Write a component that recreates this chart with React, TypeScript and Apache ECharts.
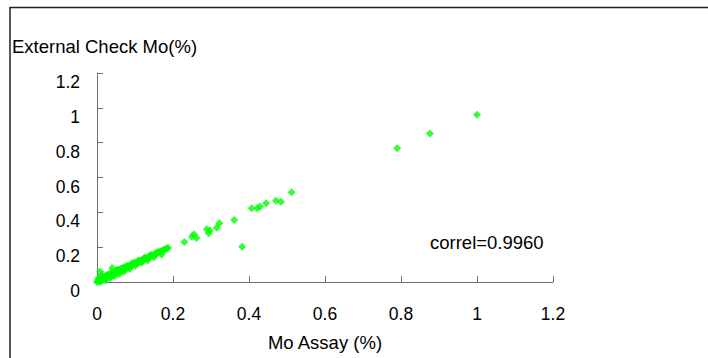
import React, { useEffect, useRef } from "react";
import * as echarts from "echarts";

const xTicks = [0, 0.2, 0.4, 0.6, 0.8, 1, 1.2];
const yTicks = [0, 0.2, 0.4, 0.6, 0.8, 1, 1.2];

const moAssay = [
  0, 0.002, 0.004, 0.005, 0.006, 0.008, 0.008, 0.01, 0.012, 0.012, 0.014, 0.015, 0.017, 0.018, 0.02, 0.021,
  0.023, 0.025, 0.026, 0.028, 0.03, 0.031, 0.033, 0.035, 0.036, 0.038, 0.04, 0.041, 0.043, 0.045, 0.047,
  0.048, 0.05, 0.052, 0.054, 0.055, 0.057, 0.06, 0.062, 0.064, 0.066, 0.068, 0.07, 0.072, 0.074, 0.076,
  0.078, 0.08, 0.082, 0.085, 0.087, 0.09, 0.092, 0.095, 0.097, 0.1, 0.103, 0.105, 0.108, 0.11, 0.113,
  0.115, 0.118, 0.12, 0.123, 0.126, 0.128, 0.131, 0.134, 0.137, 0.14, 0.143, 0.146, 0.149, 0.152, 0.155,
  0.158, 0.161, 0.165, 0.168, 0.172, 0.176, 0.18, 0.184, 0.187,
  0.003, 0.009, 0.016, 0.022, 0.027, 0.034, 0.039, 0.046, 0.053, 0.059, 0.065, 0.071, 0.079, 0.086,
  0.093, 0.101, 0.109, 0.117, 0.125, 0.133, 0.141, 0.15, 0.159, 0.17,
  0.23, 0.25, 0.255, 0.262, 0.289, 0.294, 0.297, 0.315, 0.322, 0.361, 0.382, 0.407, 0.422, 0.429, 0.445,
  0.471, 0.484, 0.512, 0.79, 0.876, 1.0,
];

const externalCheck = [
  0, 0.005, 0.003, 0.012, 0.02, 0.01, 0.06, 0.015, 0.04, 0.008, 0.02, 0.03, 0.025, 0.015, 0.028, 0.022,
  0.035, 0.03, 0.02, 0.04, 0.035, 0.028, 0.045, 0.04, 0.05, 0.035, 0.08, 0.048, 0.055, 0.045, 0.06,
  0.052, 0.058, 0.065, 0.05, 0.07, 0.062, 0.068, 0.075, 0.06, 0.072, 0.08, 0.074, 0.085, 0.072, 0.088,
  0.082, 0.09, 0.085, 0.095, 0.09, 0.1, 0.096, 0.108, 0.1, 0.11, 0.113, 0.106, 0.118, 0.114, 0.122,
  0.118, 0.127, 0.123, 0.132, 0.13, 0.138, 0.135, 0.142, 0.14, 0.148, 0.152, 0.15, 0.158, 0.16, 0.163,
  0.165, 0.17, 0.172, 0.177, 0.18, 0.185, 0.188, 0.192, 0.196,
  0.018, 0.002, 0.03, 0.01, 0.042, 0.022, 0.052, 0.034, 0.07, 0.048, 0.078, 0.06, 0.092, 0.074,
  0.108, 0.094, 0.124, 0.11, 0.14, 0.124, 0.156, 0.142, 0.172, 0.158,
  0.23, 0.26, 0.274, 0.252, 0.303, 0.28, 0.295, 0.312, 0.337, 0.356, 0.203, 0.424, 0.424, 0.433, 0.452,
  0.466, 0.461, 0.516, 0.768, 0.852, 0.96,
];

const correlText = "correl=0.9960";
const xTitle = "Mo Assay (%)";
const yTitle = "External Check Mo(%)";

const FONT = "'Liberation Sans', Arial, sans-serif";

export default function App() {
  const ref = useRef<HTMLDivElement>(null);
  useEffect(() => {
    if (!ref.current) return;
    const chart = echarts.init(ref.current, null, { renderer: "svg" });
    const fmt = (v: number) => String(Math.round(v * 10) / 10);
    const axisCommon = {
      type: "value" as const,
      min: xTicks[0],
      max: xTicks[xTicks.length - 1],
      interval: 0.2,
      splitLine: { show: false },
      axisLine: { show: true, onZero: false, lineStyle: { color: "#707070", width: 1 } },
      axisTick: { show: true, inside: true, length: 6, lineStyle: { color: "#707070", width: 1 } },
    };
    chart.setOption({
      animation: false,
      backgroundColor: "#ffffff",
      grid: { left: 97, right: 155, top: 73, bottom: 76, containLabel: false },
      xAxis: {
        ...axisCommon,
        axisLabel: {
          formatter: fmt,
          fontFamily: FONT,
          fontSize: 17.5,
          color: "#000",
          margin: 23,
        },
        name: xTitle,
        nameLocation: "middle",
        nameGap: 51,
        nameTextStyle: { fontFamily: FONT, fontSize: 18.5, color: "#000" },
      },
      yAxis: {
        ...axisCommon,
        min: yTicks[0],
        max: yTicks[yTicks.length - 1],
        axisLabel: {
          formatter: fmt,
          fontFamily: FONT,
          fontSize: 17.5,
          color: "#000",
          margin: 17,
          verticalAlign: "top",
        },
      },
      series: [
        {
          type: "scatter",
          symbol: "diamond",
          symbolSize: 8,
          itemStyle: { color: "#00ff00" },
          data: moAssay.map((x, i) => [x, externalCheck[i]]),
        },
      ],
      graphic: [
        {
          type: "polyline",
          shape: { points: [[10, 358], [10, 7.5], [708, 7.5]] },
          style: { stroke: "#222", lineWidth: 1.5, fill: null },
        },
        {
          type: "text",
          left: 12,
          top: 37,
          style: { text: yTitle, font: `18.5px ${FONT}`, fill: "#000" },
        },
        {
          type: "text",
          left: 430,
          top: 233,
          style: { text: correlText, font: `18.5px ${FONT}`, fill: "#000" },
        },
      ],
    });
    return () => chart.dispose();
  }, []);
  return (
    <div
      ref={ref}
      style={{ position: "fixed", left: 0, top: 0, width: 708, height: 358, background: "#fff" }}
    />
  );
}
